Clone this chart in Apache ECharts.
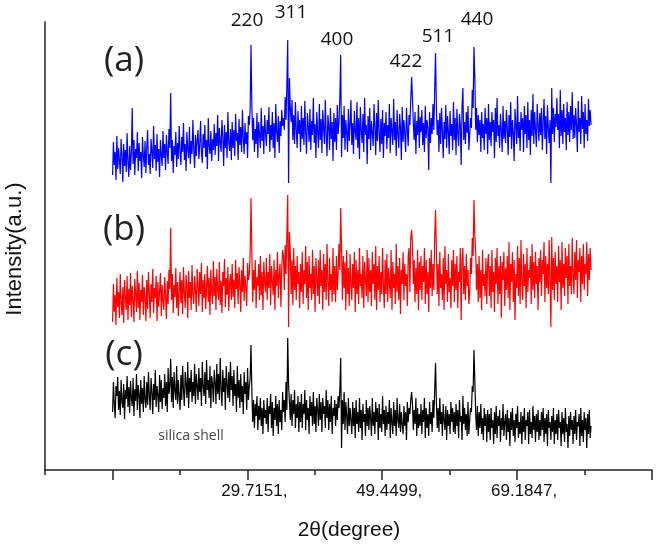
<!DOCTYPE html>
<html>
<head>
<meta charset="utf-8">
<script src="https://cdn.jsdelivr.net/npm/echarts@6/dist/echarts.min.js"></script>
<style>
  html, body { margin: 0; padding: 0; background: #fff; }
  #chart { width: 658px; height: 545px; }
</style>
</head>
<body>
<div id="chart"></div>
<script>
// 2θ scan: 10° → 80°, step 0.125°
const SCAN_START = 10
const SCAN_STEP = 0.125

// x axis tick positions (degrees), long ticks and the ones that carry labels
const TICK_MIN = 0.1129
const TICK_STEP = 9.8674
const TICK_COUNT = 10
const MAJOR_TICKS = [9.9803, 29.7151, 49.4499, 69.1847, 88.9195]
const LABELED_TICKS = ['29.7151', '49.4499', '69.1847']

// intensity (a.u.), traces already stacked with their offsets
const seriesA = [
  295, 328, 305, 318, 290, 334, 301, 322, 310, 296, 331, 315, 288, 326, 304, 320, 298, 337, 308, 293,
  324, 300, 317, 362, 306, 330, 295, 321, 312, 338, 299, 327, 309, 318, 292, 333, 314, 303, 329, 297,
  322, 340, 305, 316, 296, 331, 319, 302, 344, 311, 325, 299, 336, 308, 321, 293, 330, 315, 304, 339,
  312, 326, 300, 335, 318, 306, 341, 322, 377, 309, 330, 297, 324, 315, 338, 303, 327, 311, 344, 319,
  305, 333, 318, 347, 310, 326, 299, 338, 321, 312, 343, 306, 329, 316, 350, 320, 302, 335, 314, 330,
  340, 311, 325, 349, 318, 307, 336, 322, 345, 313, 330, 301, 352, 324, 316, 339, 309, 331, 320, 346,
  315, 337, 324, 355, 309, 342, 328, 318, 350, 333, 304, 345, 322, 338, 312, 358, 327, 319, 341, 310,
  348, 322, 340, 314, 356, 329, 337, 310, 351, 325, 343, 318, 360, 332, 316, 347, 326, 338, 312, 354,
  345, 360, 425, 365, 330, 352, 318, 341, 326, 357, 312, 348, 335, 322, 362, 329, 344, 316, 355, 338,
  324, 350, 336, 363, 318, 345, 330, 358, 322, 347, 312, 366, 339, 328, 354, 317, 349, 334, 360, 344,
  352, 340, 373, 350, 385, 430, 287, 392, 362, 348, 370, 330, 355, 326, 368, 340, 322, 359, 336, 350,
  318, 364, 331, 352, 325, 369, 338, 316, 357, 344, 328, 361, 320, 349, 335, 372, 327, 346, 312, 358,
  339, 322, 366, 330, 351, 317, 360, 342, 326, 370, 335, 314, 355, 344, 320, 362, 331, 348, 309, 357,
  328, 352, 320, 365, 336, 348, 372, 415, 313, 355, 332, 364, 320, 350, 338, 318, 361, 329, 346, 370,
  325, 347, 316, 359, 338, 330, 368, 322, 352, 311, 363, 340, 327, 356, 318, 372, 335, 345, 306, 354,
  331, 362, 320, 349, 337, 324, 366, 343, 315, 357, 329, 370, 338, 318, 351, 326, 360, 312, 347, 334,
  358, 321, 345, 332, 366, 317, 352, 339, 325, 371, 330, 348, 314, 360, 336, 322, 356, 342, 310, 363,
  328, 350, 336, 318, 362, 340, 324, 355, 345, 370, 393, 372, 346, 330, 358, 316, 349, 335, 365, 322,
  353, 338, 360, 325, 347, 318, 364, 332, 350, 342, 300, 358, 327, 352, 336, 366, 340, 380, 417, 362,
  335, 350, 318, 357, 326, 362, 340, 312, 348, 331, 365, 322, 354, 339, 316, 359, 334, 346, 320, 368,
  330, 352, 315, 361, 338, 324, 356, 345, 305, 362, 382, 330, 348, 326, 358, 337, 364, 320, 336, 352,
  342, 380, 362, 423, 392, 340, 362, 328, 355, 335, 350, 318, 358, 332, 346, 320, 362, 336, 352, 316,
  366, 330, 348, 324, 358, 338, 350, 312, 362, 328, 372, 334, 345, 322, 356, 340, 318, 364, 331, 349,
  327, 360, 342, 315, 355, 333, 368, 321, 350, 337, 309, 361, 345, 326, 374, 332, 348, 319, 358, 340,
  352, 318, 364, 336, 355, 322, 368, 330, 350, 315, 360, 334, 376, 326, 358, 340, 323, 366, 344, 329,
  357, 335, 362, 320, 348, 371, 331, 354, 316, 365, 342, 327, 350, 287, 382, 336, 362, 328, 356, 343,
  372, 340, 356, 322, 380, 334, 360, 326, 366, 338, 352, 320, 368, 335, 358, 328, 364, 340, 378, 331,
  355, 332, 362, 345, 318, 369, 338, 352, 326, 374, 341, 358, 322, 366, 336, 350, 329, 371, 344, 360,
  345
]
const seriesB = [
  148, 186, 158, 175, 145, 192, 163, 178, 152, 196, 168, 155, 183, 147, 190, 172, 160, 194, 150, 181,
  165, 197, 153, 184, 170, 148, 191, 176, 158, 199, 162, 187, 150, 180, 168, 195, 155, 183, 173, 149,
  190, 161, 198, 177, 152, 186, 168, 201, 157, 182, 172, 194, 149, 188, 163, 179, 197, 154, 185, 170,
  160, 193, 175, 151, 189, 166, 200, 181, 242, 170, 196, 157, 185, 173, 202, 162, 188, 154, 179, 198,
  167, 190, 156, 203, 178, 162, 195, 184, 152, 199, 172, 188, 160, 205, 176, 166, 194, 181, 158, 201,
  185, 164, 198, 176, 207, 158, 190, 172, 196, 161, 183, 204, 168, 192, 155, 200, 179, 166, 209, 174,
  193, 160, 201, 180, 170, 208, 165, 189, 157, 198, 184, 211, 163, 192, 175, 203, 159, 187, 196, 170,
  206, 173, 190, 162, 210, 181, 197, 166, 203, 187, 158, 200, 178, 212, 169, 194, 183, 164, 207, 190,
  196, 215, 272, 218, 168, 200, 180, 210, 162, 193, 184, 206, 170, 214, 175, 198, 160, 208, 188, 178,
  212, 170, 198, 182, 216, 165, 204, 189, 175, 210, 160, 200, 184, 218, 172, 195, 206, 163, 202, 220,
  214, 180, 225, 196, 236, 275, 143, 238, 218, 176, 210, 165, 222, 180, 204, 170, 214, 186, 198, 162,
  206, 178, 218, 166, 200, 186, 224, 172, 208, 160, 214, 182, 196, 170, 220, 176, 204, 158, 212, 190,
  174, 210, 166, 220, 184, 200, 160, 216, 178, 206, 170, 226, 188, 164, 212, 180, 196, 168, 222, 176,
  204, 168, 214, 180, 196, 226, 200, 262, 222, 170, 214, 182, 208, 160, 220, 176, 202, 164, 216, 186,
  170, 206, 182, 218, 158, 210, 176, 200, 166, 222, 184, 196, 172, 214, 162, 208, 190, 174, 220, 168,
  212, 178, 200, 164, 218, 186, 206, 170, 224, 160, 204, 180, 214, 168, 198, 176, 222, 184, 162, 210,
  176, 216, 168, 202, 188, 172, 220, 160, 208, 182, 196, 166, 226, 178, 204, 170, 212, 156, 200, 186,
  218, 170, 206, 184, 196, 164, 214, 222, 178, 232, 240, 226, 186, 210, 168, 202, 176, 220, 160, 208,
  180, 214, 170, 204, 188, 222, 166, 210, 176, 198, 158, 212, 182, 220, 174, 206, 180, 232, 260, 220,
  176, 206, 164, 218, 182, 196, 170, 212, 160, 224, 186, 200, 168, 216, 178, 192, 162, 210, 184, 220,
  168, 206, 180, 214, 162, 198, 188, 222, 150, 210, 222, 176, 204, 170, 216, 184, 200, 166, 176, 212,
  196, 232, 214, 270, 236, 218, 180, 206, 168, 214, 172, 200, 160, 220, 184, 196, 174, 212, 166, 206,
  216, 174, 204, 162, 220, 178, 198, 158, 212, 186, 222, 166, 204, 176, 214, 152, 208, 190, 218, 164,
  202, 180, 214, 172, 228, 160, 206, 188, 218, 168, 210, 150, 196, 182, 224, 174, 212, 166, 230, 186,
  170, 216, 184, 206, 162, 222, 178, 200, 192, 214, 166, 226, 180, 208, 172, 218, 186, 204, 160, 212,
  188, 220, 174, 210, 196, 228, 168, 214, 182, 206, 176, 230, 190, 143, 233, 180, 212, 170, 218, 186,
  204, 168, 224, 188, 210, 160, 228, 182, 206, 174, 222, 192, 214, 166, 226, 184, 204, 176, 232, 194,
  176, 218, 190, 230, 172, 210, 198, 222, 168, 214, 186, 226, 180, 206, 196, 228, 174, 216, 190, 222,
  200
]
const seriesC = [
  58, 88, 66, 52, 84, 74, 93, 60, 79, 55, 90, 68, 62, 86, 51, 80, 71, 94, 63, 83,
  57, 89, 72, 64, 92, 54, 81, 69, 96, 60, 85, 76, 52, 90, 66, 82, 58, 94, 70, 62,
  88, 65, 98, 74, 60, 92, 79, 56, 86, 70, 100, 63, 84, 75, 58, 95, 68, 90, 61, 82,
  72, 96, 64, 88, 58, 102, 76, 84, 111, 68, 93, 62, 98, 80, 70, 104, 66, 90, 74, 60,
  95, 70, 104, 80, 64, 98, 86, 72, 108, 62, 92, 78, 100, 68, 88, 74, 106, 66, 96, 84,
  70, 102, 78, 92, 64, 108, 84, 74, 98, 66, 110, 80, 90, 72, 104, 62, 94, 86, 68, 100,
  88, 66, 106, 76, 96, 70, 112, 82, 64, 100, 78, 92, 60, 104, 86, 72, 98, 68, 108, 80,
  94, 64, 100, 74, 86, 58, 104, 72, 90, 62, 96, 68, 84, 56, 98, 76, 88, 60, 102, 70,
  84, 92, 125, 80, 48, 70, 42, 66, 54, 74, 40, 64, 50, 72, 44, 62, 36, 70, 52, 60,
  46, 72, 38, 64, 56, 76, 42, 68, 34, 62, 50, 74, 44, 66, 36, 70, 48, 60, 40, 78,
  58, 70, 48, 88, 60, 132, 86, 68, 50, 76, 44, 70, 56, 80, 42, 66, 52, 74, 38, 68,
  48, 76, 42, 66, 56, 80, 40, 70, 50, 62, 36, 74, 54, 68, 44, 78, 46, 64, 38, 72,
  60, 44, 76, 50, 68, 38, 72, 56, 64, 42, 80, 52, 70, 40, 66, 48, 74, 36, 62, 54,
  70, 44, 66, 50, 74, 62, 80, 112, 22, 70, 46, 78, 40, 68, 54, 36, 72, 44, 62, 50,
  36, 68, 44, 62, 32, 70, 46, 58, 38, 72, 42, 60, 30, 66, 48, 56, 34, 70, 44, 62,
  40, 64, 52, 34, 72, 44, 58, 36, 68, 48, 62, 30, 66, 42, 56, 38, 74, 46, 60, 34,
  64, 40, 58, 46, 70, 32, 62, 48, 36, 68, 44, 60, 34, 72, 50, 42, 66, 38, 58, 46,
  36, 64, 44, 58, 30, 68, 48, 62, 56, 70, 78, 66, 40, 60, 46, 72, 34, 62, 42, 56,
  44, 66, 36, 60, 48, 72, 32, 62, 42, 56, 34, 68, 46, 58, 38, 70, 52, 80, 107, 68,
  42, 62, 38, 72, 46, 58, 34, 66, 50, 40, 64, 30, 60, 44, 56, 36, 68, 48, 62, 38,
  58, 36, 66, 44, 60, 32, 70, 48, 54, 30, 74, 46, 62, 40, 56, 34, 68, 36, 50, 62,
  58, 84, 78, 120, 90, 56, 40, 64, 34, 58, 42, 66, 36, 52, 30, 62, 44, 56, 28, 60,
  38, 56, 30, 62, 42, 50, 26, 58, 36, 64, 32, 54, 44, 60, 28, 52, 40, 66, 34, 48,
  56, 30, 60, 38, 52, 24, 58, 40, 62, 34, 50, 28, 56, 42, 64, 32, 48, 36, 58, 26,
  54, 38, 62, 30, 50, 44, 58, 26, 60, 36, 48, 32, 64, 40, 54, 28, 56, 38, 60, 30,
  50, 34, 58, 40, 62, 28, 52, 36, 56, 24, 60, 42, 48, 30, 54, 38, 62, 26, 50, 36,
  56, 30, 60, 42, 48, 24, 58, 36, 52, 28, 62, 38, 46, 22, 54, 34, 58, 40, 50, 26,
  54, 36, 60, 30, 48, 44, 56, 24, 62, 34, 50, 28, 58, 40, 52, 22, 56, 36, 60, 32,
  44
]

// (hkl) reflections annotated above trace (a)
const peakLabels = ['220', '311', '400', '422', '511', '440']
const panelLabels = ['(a)', '(b)', '(c)']

const toPoints = arr => arr.map((v, i) => [SCAN_START + i * SCAN_STEP, v])

const chart = echarts.init(document.getElementById('chart'), null, {renderer: 'canvas'})

const axisColor = '#222'
const peakPos = [[247, 21], [291, 13], [337, 40], [406, 62], [438, 37], [477, 20]]
const panelPos = [[124, 61], [124, 230], [124, 355]]

const graphics = []
peakLabels.forEach((t, i) => {
  graphics.push({
    type: 'text', x: peakPos[i][0], y: peakPos[i][1],
    style: {text: t, fill: '#111', font: '19px "Open Sans"', textAlign: 'center', textVerticalAlign: 'middle'}
  })
})
panelLabels.forEach((t, i) => {
  graphics.push({
    type: 'text', x: panelPos[i][0], y: panelPos[i][1],
    style: {text: t, fill: '#222', font: '35px "Open Sans"', textAlign: 'center', textVerticalAlign: 'middle'}
  })
})
graphics.push({
  type: 'text', x: 191, y: 436,
  style: {text: 'silica shell', fill: '#444', font: '14px "Open Sans"', textAlign: 'center', textVerticalAlign: 'middle'}
})
graphics.push({
  type: 'text', x: 349, y: 530,
  style: {text: '2θ(degree)', fill: '#111', font: '21px "Liberation Sans"', textAlign: 'center', textVerticalAlign: 'middle'}
})
graphics.push({
  type: 'text', x: 15, y: 249, rotation: Math.PI / 2,
  style: {text: 'Intensity(a.u.)', fill: '#111', font: '22px "Liberation Sans"', textAlign: 'center', textVerticalAlign: 'middle'}
})

const xMax = TICK_MIN + (TICK_COUNT - 1) * TICK_STEP

const option = {
  animation: false,
  backgroundColor: '#fff',
  grid: {left: 45, right: 6, top: 22, bottom: 75, containLabel: false},
  xAxis: [
    {
      type: 'value',
      min: TICK_MIN,
      max: xMax,
      interval: TICK_STEP,
      axisLine: {lineStyle: {color: axisColor, width: 1.5}},
      axisTick: {length: 5, lineStyle: {color: axisColor, width: 1.5}},
      splitLine: {show: false},
      axisLabel: {
        margin: 13,
        padding: [0, 0, 0, 14],
        color: '#111',
        fontSize: 17,
        fontFamily: 'Liberation Sans',
        formatter: v => {
          const s = v.toFixed(4)
          return LABELED_TICKS.includes(s) ? s + ',' : ''
        }
      }
    },
    {
      // long ticks
      type: 'value',
      position: 'bottom',
      min: TICK_MIN,
      max: xMax,
      axisLine: {show: false},
      axisTick: {show: true, length: 10, customValues: MAJOR_TICKS, lineStyle: {color: axisColor, width: 1.5}},
      axisLabel: {show: false},
      splitLine: {show: false}
    }
  ],
  yAxis: {
    type: 'value',
    min: 0,
    max: 448,
    axisLine: {show: true, lineStyle: {color: axisColor, width: 1.5}},
    axisTick: {show: false},
    axisLabel: {show: false},
    splitLine: {show: false}
  },
  series: [
    {name: '(a)', type: 'line', data: toPoints(seriesA), showSymbol: false, symbol: 'none', lineStyle: {color: '#0000ff', width: 1.2}},
    {name: '(b)', type: 'line', data: toPoints(seriesB), showSymbol: false, symbol: 'none', lineStyle: {color: '#ff0000', width: 1.2}},
    {name: '(c)', type: 'line', data: toPoints(seriesC), showSymbol: false, symbol: 'none', lineStyle: {color: '#000000', width: 1.2}}
  ],
  graphic: graphics
}

chart.setOption(option)
</script>
</body>
</html>
